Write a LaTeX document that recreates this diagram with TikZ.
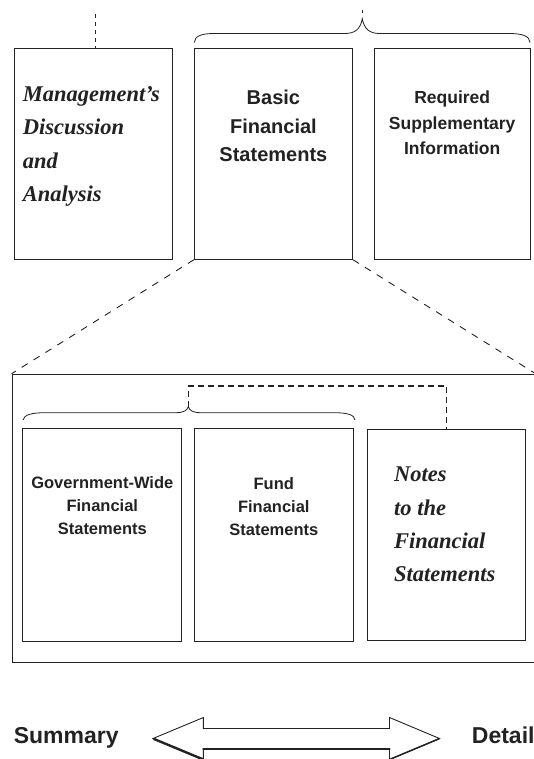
\documentclass[tikz,border=0pt]{standalone}
\usepackage{fontspec}
\newfontfamily\hvfont{Liberation Sans}
\newfontfamily\brushfont{Liberation Serif}
\usetikzlibrary{calc}
\definecolor{ink}{HTML}{222222}
\tikzset{
  panel/.style={draw=ink, line width=0.9pt, inner sep=0pt, rectangle},
  bigsans/.style={inner sep=0pt, text=ink, font=\hvfont\bfseries\fontsize{20}{28.5}\selectfont},
  midsans/.style={inner sep=0pt, text=ink, font=\hvfont\bfseries\fontsize{17.5}{25.2}\selectfont},
  smallsans/.style={inner sep=0pt, text=ink, font=\hvfont\bfseries\fontsize{16.5}{23.1}\selectfont},
  endsans/.style={inner sep=0pt, text=ink, font=\hvfont\bfseries\fontsize{23}{27}\selectfont},
  brush/.style={inner sep=0pt, text=ink, font=\brushfont\bfseries\itshape\fontsize{22.5}{33.3}\selectfont},
  bracepath/.style={draw=ink, line width=0.8pt},
  topdash/.style={draw=ink, line width=0.8pt, dash pattern=on 4pt off 4pt},
  diagdash/.style={draw=ink, line width=0.9pt, dash pattern=on 7pt off 7pt},
  linkdash/.style={draw=ink, line width=1.3pt, dash pattern=on 6pt off 4pt},
  arrowedge/.style={draw=ink, line width=0.9pt, line join=miter},
  arrowshade/.style={draw=ink, line width=2.4pt, line cap=round}
}
\begin{document}
\begin{tikzpicture}[x=1pt,y=-1pt]
\useasboundingbox (0,0) rectangle (533,759);

% top row panels
\node[panel, minimum width=158pt, minimum height=211pt] (mda) at (93.3,153.8) {};
\node[panel, minimum width=158.2pt, minimum height=211pt] (basic) at (273.4,153.8) {};
\node[panel, minimum width=155.7pt, minimum height=211pt] (rsi) at (452.15,153.8) {};

% outer frame and inner panels
\node[panel, line width=1.2pt, minimum width=522.8pt, minimum height=288.4pt] (outer) at (273.6,518.5) {};
\node[panel, minimum width=159pt, minimum height=212.7pt] (gov) at (102.2,534.65) {};
\node[panel, minimum width=159pt, minimum height=212.7pt] (fund) at (273.8,534.65) {};
\node[panel, minimum width=157.3pt, minimum height=211.4pt] (notes) at (446.35,535) {};

% texts
\node[brush, anchor=base west] (mdatxt) at (22.7,101.7)
  {\begin{tabular}[t]{@{}l@{}}Management’s\\Discussion\\and\\Analysis\end{tabular}};
\node[bigsans, anchor=base] (basictxt) at (273.4,105)
  {\begin{tabular}[t]{@{}c@{}}Basic\\Financial\\Statements\end{tabular}};
\node[midsans, anchor=base] (rsitxt) at (452.2,104)
  {\begin{tabular}[t]{@{}c@{}}Required\\Supplementary\\Information\end{tabular}};
\node[smallsans, anchor=base] (govtxt) at (102.3,488.3)
  {\begin{tabular}[t]{@{}c@{}}Government-Wide\\Financial\\Statements\end{tabular}};
\node[smallsans, anchor=base] (fundtxt) at (273.8,489.3)
  {\begin{tabular}[t]{@{}c@{}}Fund\\Financial\\Statements\end{tabular}};
\node[brush, anchor=base west] (notestxt) at (394,481.7)
  {\begin{tabular}[t]{@{}l@{}}Notes\\to the\\Financial\\Statements\end{tabular}};
\node[endsans, anchor=base west] (summary) at (13.6,743) {Summary};
\node[endsans, anchor=base west] (detail) at (471.7,743) {Detail};

% upper brace
\draw[bracepath] (194.3,42.5) .. controls (194.8,36) and (201,33.5) .. (215,33.5)
  -- (345,33.5) .. controls (355,33.5) and (360.5,29) .. (362.3,18.7)
  .. controls (364.1,29) and (369.6,33.5) .. (379.6,33.5)
  -- (508,33.5) .. controls (523,33.5) and (529.5,36) .. (530,42.5);
\coordinate (topmark) at (362.3,9.8);
\draw[bracepath] (topmark) -- ++(0,3.6);

% lower brace
\draw[bracepath] (23,420) .. controls (24,415) and (31,412.7) .. (45,412.7)
  -- (176,412.7) .. controls (183.5,412.7) and (187.2,410.5) .. (188.3,406.7)
  .. controls (189.4,410.5) and (193.1,412.7) .. (200.6,412.7)
  -- (334,412.7) .. controls (348,412.7) and (354.5,415) .. (355,420);

% connectors
\coordinate (mdtop) at (95,14.5);
\draw[topdash] (mdtop) -- (mdtop |- mda.north);
\draw[diagdash] (basic.south west) -- (outer.north west);
\draw[diagdash] (basic.south east) -- (outer.north east);
\coordinate (btip) at (188.3,406.7);
\coordinate (barlevel) at (300,386);
\draw[linkdash] (btip) -- (btip |- barlevel) -| (notes.north);

% double block arrow
\draw[arrowedge] (153,738.5) -- (203.4,717.5) -- (203.4,728.5) -- (389.5,728.5)
  -- (389.5,717.5) -- (439.5,738.5) -- (389.5,759.5) -- (389.5,748.5)
  -- (203.4,748.5) -- (203.4,759.5) -- cycle;
\draw[arrowshade] (154,739) -- (203.4,759.5);
\draw[arrowshade] (203.4,749) -- (389.5,749);
\draw[arrowshade, line width=1.5pt] (389.5,759.5) -- (439,738.8);
\end{tikzpicture}
\end{document}
